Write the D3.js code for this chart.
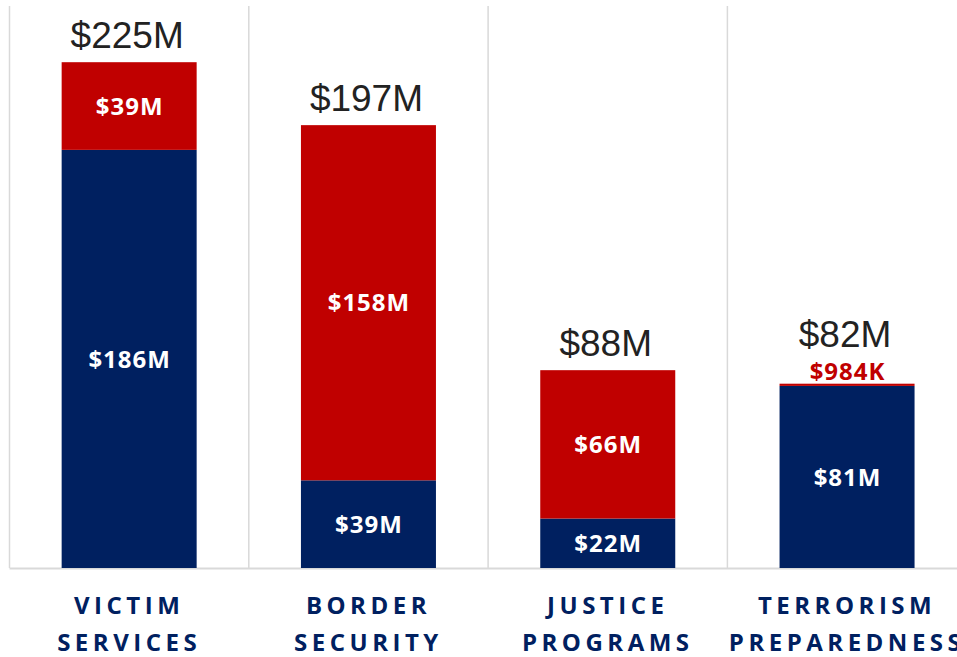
<!DOCTYPE html>
<html>
<head>
<meta charset="utf-8">
<script src="https://cdn.jsdelivr.net/npm/d3@7"></script>
<style>
  html, body { margin: 0; padding: 0; background: #fff; }
  svg { display: block; }
</style>
</head>
<body>
<svg id="chart" width="957" height="657"></svg>
<script>
const categories = [["VICTIM", "SERVICES"], ["BORDER", "SECURITY"], ["JUSTICE", "PROGRAMS"], ["TERRORISM", "PREPAREDNESS"]];
const blueValues = [186, 39, 22, 81];
const redValues = [39, 158, 66, 0.984];
const blueLabels = ["$186M", "$39M", "$22M", "$81M"];
const redLabels = ["$39M", "$158M", "$66M", "$984K"];
const totalLabels = ["$225M", "$197M", "$88M", "$82M"];

(function () {
const navy = "#002060", red = "#C00000", grid = "#d9d9d9";
const svg = d3.select("#chart");
const plotLeft = 9.5, plotTop = 6, plotBottom = 568, step = 239.3;
const keys = categories.map((c, i) => i);

const x = d3.scaleBand().domain(keys).range([plotLeft, plotLeft + step * keys.length]).paddingInner(0).paddingOuter(0);
const y = d3.scaleLinear().domain([0, 250]).range([plotBottom, plotTop]);
const barW = 135;

// gridlines (vertical category separators)
const gl = svg.append("g");
keys.forEach(k => {
  gl.append("line").attr("x1", x(k)).attr("x2", x(k))
    .attr("y1", plotTop).attr("y2", plotBottom).attr("stroke", grid).attr("stroke-width", 1.5);
});
gl.append("line").attr("x1", plotLeft).attr("x2", 957).attr("y1", plotBottom + 0.5).attr("y2", plotBottom + 0.5)
  .attr("stroke", grid).attr("stroke-width", 2);

const data = keys.map(i => ({ i, blue: blueValues[i], red: redValues[i] }));
const stack = d3.stack().keys(["blue", "red"])(data);
const colors = { blue: navy, red: red };
const labels = { blue: blueLabels, red: redLabels };

const cx = i => x(i) + x.bandwidth() / 2;

stack.forEach(layer => {
  svg.append("g").selectAll("rect").data(layer).join("rect")
    .attr("x", d => cx(d.data.i) - barW / 2)
    .attr("width", barW)
    .attr("y", d => y(d[1]))
    .attr("height", d => Math.max(2, y(d[0]) - y(d[1])))
    .attr("fill", colors[layer.key]);
});

// segment labels
const topOffset = keys.map(() => 0);
stack.forEach(layer => {
  layer.forEach(d => {
    const i = d.data.i;
    const h = y(d[0]) - y(d[1]);
    const t = svg.append("text")
      .attr("x", cx(i) + 0.5)
      .attr("font-family", "'Open Sans', sans-serif")
      .attr("font-weight", "bold")
      .attr("font-size", 24)
      .attr("letter-spacing", "1px")
      .attr("text-anchor", "middle")
      .text(labels[layer.key][i]);
    if (h > 30) {
      t.attr("y", (y(d[0]) + y(d[1])) / 2).attr("dy", "0.36em").attr("fill", "#fff");
    } else {
      t.attr("y", y(d[1]) - 4).attr("fill", red);
      topOffset[i] = 23;
    }
  });
});

// total labels
keys.forEach(i => {
  svg.append("text")
    .attr("x", cx(i) - 2)
    .attr("y", y(blueValues[i] + redValues[i]) - 14 - topOffset[i])
    .attr("font-family", "'Liberation Sans', Arial, sans-serif")
    .attr("font-size", 37)
    .attr("text-anchor", "middle")
    .attr("fill", "#222")
    .text(totalLabels[i]);
});

// category labels
keys.forEach(i => {
  categories[i].forEach((line, j) => {
    svg.append("text")
      .attr("x", cx(i))
      .attr("y", 614 + j * 37)
      .attr("font-family", "'Open Sans', sans-serif")
      .attr("font-weight", "bold")
      .attr("font-size", 24)
      .attr("letter-spacing", "4.5px")
      .attr("text-anchor", "middle")
      .attr("fill", navy)
      .text(line);
  });
});
})();
</script>
</body>
</html>
